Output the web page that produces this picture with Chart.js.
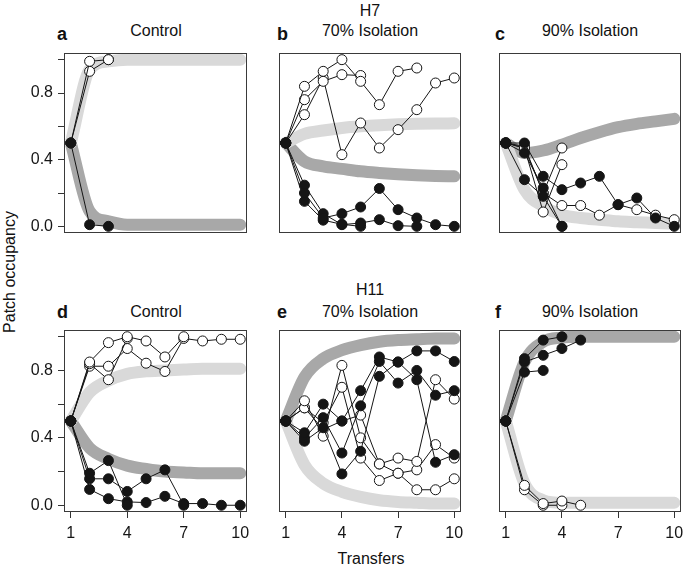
<!DOCTYPE html>
<html>
<head>
<meta charset="utf-8">
<script src="https://cdn.jsdelivr.net/npm/chart.js@4.4.0/dist/chart.umd.min.js"></script>
<style>
  body { margin: 0; background: #fff; width: 685px; height: 569px; position: relative; overflow: hidden;
         font-family: "Liberation Sans", Arial, sans-serif; color: #111; }
  canvas { position: absolute; }
  .t { position: absolute; font-size: 16px; line-height: 16px; white-space: nowrap; transform: translateX(-50%); }
  .l { position: absolute; font-size: 18px; line-height: 18px; font-weight: bold; }
  .ylab { position: absolute; font-size: 16px; line-height: 16px; white-space: nowrap;
          transform: translate(-50%, -50%) rotate(-90deg); }
</style>
</head>
<body>

<div class="t" style="left:370px; top:3px;">H7</div>
<div class="t" style="left:370px; top:282px;">H11</div>

<div class="l" style="left:57px; top:25px;">a</div>
<div class="t" style="left:156px; top:23px;">Control</div>
<div class="l" style="left:277px; top:25px;">b</div>
<div class="t" style="left:370px; top:23px;">70% Isolation</div>
<div class="l" style="left:495px; top:25px;">c</div>
<div class="t" style="left:590px; top:23px;">90% Isolation</div>

<div class="l" style="left:57px; top:303px;">d</div>
<div class="t" style="left:156px; top:304px;">Control</div>
<div class="l" style="left:277px; top:303px;">e</div>
<div class="t" style="left:370px; top:304px;">70% Isolation</div>
<div class="l" style="left:495px; top:303px;">f</div>
<div class="t" style="left:590px; top:304px;">90% Isolation</div>

<div class="t" style="left:371px; top:551px;">Transfers</div>
<div class="ylab" style="left:10px; top:272px;">Patch occupancy</div>

<script>
// x values and axis ticks
const transfers = [1, 2, 3, 4, 5, 6, 7, 8, 9, 10];
const xTicks = [1, 4, 7, 10];
const yTicks = [0, 0.2, 0.4, 0.6, 0.8, 1.0];
const yLabels = ['0.0', '', '0.4', '', '0.8', ''];

// a - H7 control
const aLight = [0.5, 0.94, 0.99, 1, 1, 1, 1, 1, 1, 1];
const aDark = [0.5, 0.09, 0.03, 0.01, 0.01, 0.01, 0.01, 0.01, 0.01, 0.01];
const aFilled1 = [0.5, 0.01, 0.0];
const aOpen1 = [0.5, 0.99, 1.0];
const aOpen2 = [0.5, 0.93, 1.0];

// b - H7 70% isolation
const bLight = [0.5, 0.555, 0.575, 0.59, 0.6, 0.607, 0.612, 0.615, 0.617, 0.618];
const bDark = [0.5, 0.39, 0.36, 0.345, 0.33, 0.32, 0.312, 0.306, 0.302, 0.3];
const bFilled1 = [0.5, 0.2, 0.05, 0.076, 0.116, 0.227, 0.1, 0.05, 0.01, 0.0];
const bFilled2 = [0.5, 0.247, 0.076, 0.01, 0.02, 0.04, 0.004, 0.0];
const bFilled3 = [0.5, 0.15, 0.037, 0.012, 0.0];
const bOpen1 = [0.5, 0.84, 0.93, 1.0, 0.87, 0.73, 0.93, 0.95];
const bOpen2 = [0.5, 0.76, 0.87, 0.91, 0.905];
const bOpen3 = [0.5, 0.67, 0.89, 0.43, 0.62, 0.47, 0.58, 0.70, 0.86, 0.89];

// c - H7 90% isolation
const cLight = [0.5, 0.22, 0.12, 0.07, 0.05, 0.04, 0.03, 0.025, 0.02, 0.015];
const cDark = [0.5, 0.44, 0.455, 0.49, 0.53, 0.565, 0.595, 0.615, 0.63, 0.645];
const cFilled1 = [0.5, 0.5, 0.30, 0.22, 0.26, 0.30, 0.13, 0.17, 0.05, 0.0];
const cFilled2 = [0.5, 0.28, 0.18, 0.0];
const cFilled3 = [0.5, 0.44, 0.23, 0.0];
const cOpen1 = [0.5, 0.47, 0.2, 0.47];
const cOpen2 = [0.5, 0.47, 0.086, 0.37];
const cOpen3 = [0.5, 0.48, 0.2, 0.125, 0.125, 0.067, 0.13, 0.1, 0.067, 0.04];

// d - H11 control
const dLight = [0.5, 0.67, 0.74, 0.78, 0.795, 0.8, 0.805, 0.81, 0.81, 0.81];
const dDark = [0.5, 0.34, 0.275, 0.235, 0.215, 0.2, 0.195, 0.19, 0.19, 0.19];
const dFilled1 = [0.5, 0.19, 0.265, 0.0];
const dFilled2 = [0.5, 0.157, 0.157, 0.082, 0.157, 0.21, 0.0];
const dFilled3 = [0.5, 0.094, 0.039, 0.02, 0.016, 0.053, 0.01, 0.01, 0.0, 0.0];
const dOpen1 = [0.5, 0.85, 0.965, 1.0, 0.975, 0.88, 1.0];
const dOpen2 = [0.5, 0.84, 0.745, 0.99];
const dOpen3 = [0.5, 0.825, 0.825, 0.93, 0.843, 0.794, 0.99, 0.975, 0.985, 0.985];

// e - H11 70% isolation
const eLight = [0.5, 0.24, 0.13, 0.08, 0.05, 0.03, 0.02, 0.015, 0.01, 0.01];
const eDark = [0.5, 0.76, 0.87, 0.92, 0.95, 0.97, 0.98, 0.985, 0.99, 0.99];
const eFilled1 = [0.5, 0.43, 0.6, 0.5, 0.68, 0.88, 0.85, 0.916, 0.916, 0.853];
const eFilled2 = [0.5, 0.40, 0.52, 0.31, 0.59, 0.853, 0.725, 0.80, 0.653, 0.68];
const eFilled3 = [0.5, 0.38, 0.46, 0.186, 0.32, 0.765, 0.85, 0.745, 0.255, 0.30];
const eOpen1 = [0.5, 0.62, 0.41, 0.83, 0.40, 0.245, 0.28, 0.26, 0.745, 0.63];
const eOpen2 = [0.5, 0.578, 0.49, 0.70, 0.28, 0.147, 0.19, 0.21, 0.36, 0.28];
const eOpen3 = [0.5, 0.578, 0.45, 0.50, 0.535, 0.245, 0.19, 0.092, 0.092, 0.157];

// f - H11 90% isolation
const fLight = [0.5, 0.13, 0.03, 0.015, 0.015, 0.015, 0.015, 0.015, 0.015, 0.015];
const fDark = [0.5, 0.85, 0.97, 0.995, 1, 1, 1, 1, 1, 1];
const fFilled1 = [0.5, 0.87, 0.98, 1.0];
const fFilled2 = [0.5, 0.85, 0.89, 0.93, 0.98];
const fFilled3 = [0.5, 0.79, 0.80];
const fOpen1 = [0.5, 0.118, 0.01, 0.025, 0.0];
const fOpen2 = [0.5, 0.092, 0.0, 0.0];

const LIGHT = '#d9d9d9';
const DARK = '#a8a8a8';
const INK = '#151515';
const tickFont = { family: '"Liberation Sans", Arial, sans-serif', size: 16 };

function pts(vals) {
  return vals.map((v, i) => ({ x: transfers[i], y: v }));
}

function band(vals, color) {
  return {
    data: pts(vals), borderColor: color, borderWidth: 12, pointRadius: 0,
    borderCapStyle: 'round', borderJoinStyle: 'round',
    cubicInterpolationMode: 'monotone', order: 2, clip: 8
  };
}

function run(vals, filled) {
  return {
    data: pts(vals), borderColor: INK, borderWidth: 1, tension: 0,
    pointRadius: 5, pointBorderWidth: 1, pointBorderColor: INK,
    pointBackgroundColor: filled ? INK : '#fff',
    order: filled ? 0 : 1, clip: 8
  };
}

// draws the R style box round the plot region
const boxPlugin = {
  id: 'box',
  afterDraw(chart) {
    const a = chart.chartArea, c = chart.ctx;
    c.save();
    c.strokeStyle = '#3a3a3a';
    c.lineWidth = 1;
    c.strokeRect(Math.round(a.left) + 0.5, Math.round(a.top) + 0.5,
                 Math.round(a.right - a.left) - 1, Math.round(a.bottom - a.top) - 1);
    c.restore();
  }
};

// keep the label overhang from shrinking the plot region
function noPad(s) {
  s.paddingTop = 0; s.paddingBottom = 0; s.paddingLeft = 0; s.paddingRight = 0;
}

function panel(box, showY, showX, datasets) {
  const pad = 4;
  const left = showY ? 0 : box.l - pad;
  const top = box.t - pad;
  const width = box.r + pad - left;
  const height = box.b - box.t + 2 * pad + (showX ? 40 : 0);
  const cv = document.createElement('canvas');
  cv.width = width; cv.height = height;
  cv.style.left = left + 'px'; cv.style.top = top + 'px';
  document.body.appendChild(cv);

  const xScale = {
    type: 'linear', min: 0.64, max: 10.36, display: showX,
    afterBuildTicks: s => { s.ticks = xTicks.map(v => ({ value: v })); },
    grid: { drawOnChartArea: false, drawTicks: true, tickLength: 6, color: '#333' },
    border: { display: false },
    ticks: { font: tickFont, color: INK, padding: 6, maxRotation: 0, autoSkip: false,
             callback: v => String(v) }
  };
  if (showX) xScale.afterFit = s => { s.height = 40; noPad(s); };

  const yScale = {
    type: 'linear', min: -0.04, max: 1.04, display: showY,
    afterBuildTicks: s => { s.ticks = yTicks.map(v => ({ value: v })); },
    grid: { drawOnChartArea: false, drawTicks: true, tickLength: 6, color: '#333' },
    border: { display: false },
    ticks: { font: tickFont, color: INK, padding: 5,
             callback: (v, i) => yLabels[i] }
  };
  if (showY) yScale.afterFit = s => { s.width = box.l; noPad(s); };

  new Chart(cv.getContext('2d'), {
    type: 'line',
    data: { datasets: datasets },
    options: {
      responsive: false,
      animation: false,
      layout: { padding: { left: showY ? 0 : pad, right: pad, top: pad, bottom: pad } },
      plugins: { legend: { display: false }, tooltip: { enabled: false } },
      scales: { x: xScale, y: yScale }
    },
    plugins: [boxPlugin]
  });
}

const top1 = { t: 51, b: 235 };
const top2 = { t: 328, b: 512 };
const col1 = { l: 64, r: 249 };
const col2 = { l: 277, r: 463 };
const col3 = { l: 497, r: 683 };

panel({ ...col1, ...top1 }, true, false, [
  run(aFilled1, true), run(aOpen1, false), run(aOpen2, false),
  band(aLight, LIGHT), band(aDark, DARK)
]);
panel({ ...col2, ...top1 }, false, false, [
  run(bFilled1, true), run(bFilled2, true), run(bFilled3, true),
  run(bOpen1, false), run(bOpen2, false), run(bOpen3, false),
  band(bLight, LIGHT), band(bDark, DARK)
]);
panel({ ...col3, ...top1 }, false, false, [
  run(cFilled1, true), run(cFilled2, true), run(cFilled3, true),
  run(cOpen1, false), run(cOpen2, false), run(cOpen3, false),
  band(cLight, LIGHT), band(cDark, DARK)
]);
panel({ ...col1, ...top2 }, true, true, [
  run(dFilled1, true), run(dFilled2, true), run(dFilled3, true),
  run(dOpen1, false), run(dOpen2, false), run(dOpen3, false),
  band(dLight, LIGHT), band(dDark, DARK)
]);
panel({ ...col2, ...top2 }, false, true, [
  run(eFilled1, true), run(eFilled2, true), run(eFilled3, true),
  run(eOpen1, false), run(eOpen2, false), run(eOpen3, false),
  band(eLight, LIGHT), band(eDark, DARK)
]);
panel({ ...col3, ...top2 }, false, true, [
  run(fFilled1, true), run(fFilled2, true), run(fFilled3, true),
  run(fOpen1, false), run(fOpen2, false),
  band(fLight, LIGHT), band(fDark, DARK)
]);
</script>
</body>
</html>
